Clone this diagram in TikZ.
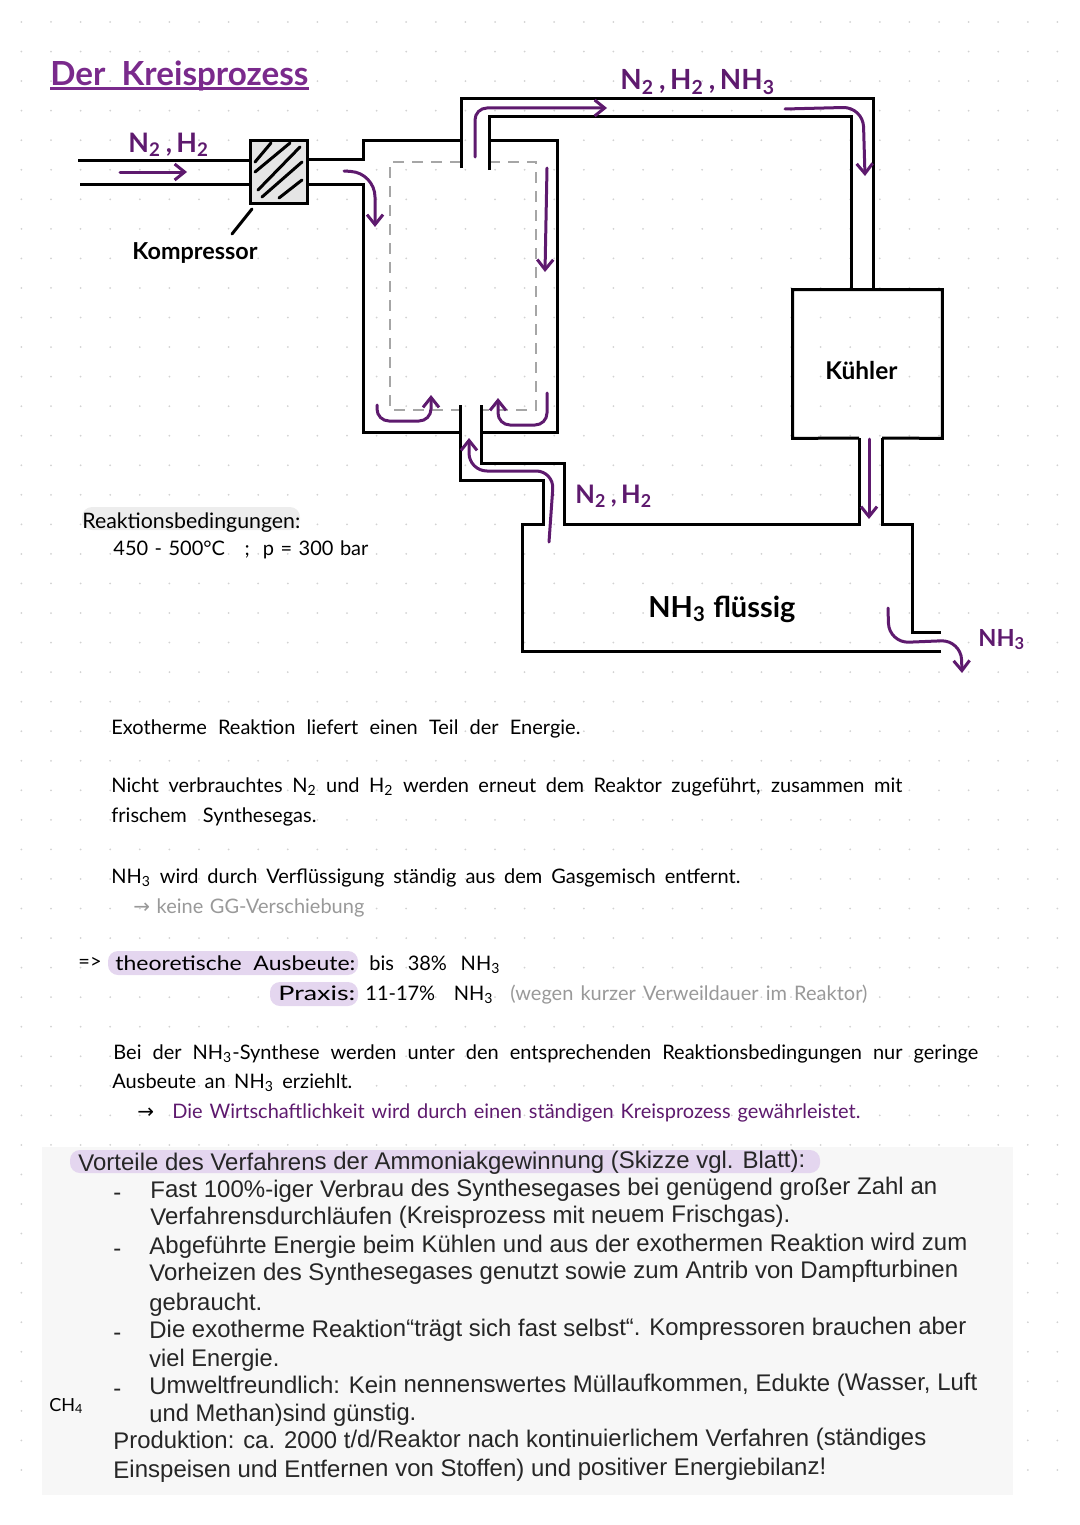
\documentclass[tikz,border=0pt]{standalone}
\usepackage{fontspec}
\usepackage{xcolor}
\usepackage{graphicx}
\usetikzlibrary{arrows.meta}
\setmainfont{Lato}
\newfontfamily\typedfont{Liberation Sans}
\newfontfamily\symfont{DejaVu Sans}
\definecolor{lila}{HTML}{5E1A6E}
\definecolor{titel}{HTML}{7A2A8C}
\definecolor{marker}{HTML}{E4D6EF}
\newcommand{\low}[1]{\textsubscript{#1}}
\newcommand{\fitto}[2]{\makebox[\dimexpr #1pt/2\relax][s]{#2}}
\newcommand{\fitw}[2]{\resizebox{\dimexpr #1pt/2\relax}{!}{#2}}
\newcommand{\fitx}[2]{\resizebox{\dimexpr #1pt/2\relax}{\height}{#2}}

\begin{document}
\begin{tikzpicture}[
    x=0.5pt, y=-0.5pt,
    pipe/.style={line width=1.5pt, black, line join=miter},
    dashline/.style={line width=1.3pt, gray!70, dash pattern=on 5.5pt off 4pt},
    flow/.style={line width=1.5pt, lila, rounded corners=6pt, line cap=round, -{Straight Barb[length=5pt,width=8pt]}},
    hand/.style={anchor=base west, inner sep=0pt, font=\fontsize{10}{12}\selectfont},
    typed/.style={anchor=base west, inner sep=0pt, rotate=0.25, text=black!85, font=\typedfont\fontsize{12}{14}\selectfont},
    bigtext/.style={anchor=base west, inner sep=0pt, font=\bfseries, text=lila},
    markbox/.style={fill=marker, rounded corners=5pt}
]
    \useasboundingbox (0,0) rectangle (1080,1525);

    % Dots
    \foreach \i in {0,...,35}
        \foreach \j in {0,...,49}
            \fill[gray!35] ({21.4+29.6*\i},{22+29.55*\j}) circle (0.5pt);

    % Sheet
    \fill[black!3] (42,1147) rectangle (1013,1495);

    % Markers
    \fill[black!7, rounded corners=5pt] (82,507) rectangle (300,530);
    \fill[markbox] (108,951) rectangle (358,975);
    \fill[markbox] (270,982) rectangle (358,1006);
    \fill[markbox] (70,1150) rectangle (820,1173);

    % Title
    \node (title) [bigtext, text=titel] at (50,85) {\fitw{258}{Der\ \ Kreisprozess}};
    \draw[line width=1.5pt, titel] (50,89) -- (309,89);

    % Kompressor
    \node (kompressor) [draw, pipe, fill=gray!20, minimum width=28.5pt, minimum height=31.5pt, inner sep=0pt] at (278.5,171.5) {};
    \draw[pipe, line cap=round] (255,162) -- (271,143);
    \draw[pipe, line cap=round] (255,172) -- (290,143);
    \draw[pipe, line cap=round] (258,190) -- (300,147);
    \draw[pipe, line cap=round] (262,197) -- (302,162);
    \draw[pipe, line cap=round] (279,198) -- (302,180);
    \draw[pipe, line cap=round] (252,209) -- (232,234);
    \node (kompressor_text) [bigtext, text=black] at (132,259) {\fitw{125}{Kompressor}};

    % Inlet
    \draw[pipe] (78,160) -- (kompressor.west |- 0,160);
    \draw[pipe] (80,184) -- (kompressor.west |- 0,184);
    \node (inlet_text) [bigtext] at (128,152) {\fitw{81}{N\low{2}\,,\,H\low{2}}};

    % Reaktor
    \draw[pipe] (kompressor.east |- 0,159) -- (363,159) -- (363,140) -- (461,140);
    \draw[pipe] (kompressor.east |- 0,184) -- (363,184) -- (363,432) -- (460,432);
    \draw[pipe] (489,140) -- (557,140) -- (557,432) -- (481,432);
    \draw[dashline] (461,162) -- (390,162) -- (390,410) -- (460,410);
    \draw[dashline] (489,162) -- (536,162) -- (536,410) -- (481,410);

    % Kuehler
    \node (kuehler) [minimum width=74.5pt, minimum height=74pt, inner sep=0pt] at (867.5,364) {};
    \draw[pipe] (859,438) -- (kuehler.south west) -- (kuehler.north west) -- (kuehler.north east) -- (kuehler.south east) -- (882,438);
    \node (kuehler_text) [bigtext, text=black] at (825,379) {\fitw{72}{Kühler}};

    % Pipes
    \draw[pipe] (461,168) -- (461,99) -- (873,99) -- (873,290);
    \draw[pipe] (489,170) -- (489,117) -- (851,117) -- (851,290);
    \draw[pipe] (859,438) -- (859,524) -- (564,524) -- (564,463) -- (481,463) -- (481,405);
    \draw[pipe] (882,438) -- (882,524) -- (912,524) -- (912,632) -- (941,632);
    \draw[pipe] (941,651) -- (522,651) -- (522,524) -- (543,524) -- (543,480) -- (460,480) -- (460,405);

    % Labels
    \node (loop_text) [bigtext] at (620,90) {\fitw{155}{N\low{2}\,,\,H\low{2}\,,\,NH\low{3}}};
    \node (return_text) [bigtext] at (575,503) {\fitw{77}{N\low{2}\,,\,H\low{2}}};
    \node (liquid_text) [bigtext, text=black] at (648,617) {\fitw{147}{NH\low{3} flüssig}};
    \node (out_text) [bigtext] at (978,646) {\fitw{47}{NH\low{3}}};

    % Arrows
    \draw[flow] (120,172) -- (187,172);
    \draw[flow, rounded corners=12pt] (344,171) -- (375,173) -- (375,227);
    \draw[flow] (475,157) -- (475,108) -- (607,108);
    \draw[flow, rounded corners=10pt] (785,109) -- (863,107) -- (865,176);
    \draw[flow] (547,168) -- (545,272);
    \draw[flow] (377,405) -- (377,421) -- (431,421) -- (431,395);
    \draw[flow] (547,393) -- (547,425) -- (498,425) -- (498,398);
    \draw[flow, rounded corners=9pt] (549,542) -- (554,471) -- (469,471) -- (469,438);
    \draw[flow] (869,439) -- (869,519);
    \draw[flow, rounded corners=10pt] (888,608) -- (889,643) -- (961,640) -- (962,673);

    % Handwritten text
    \node (cond_head) [hand] at (82,528) {\fitw{218}{Reaktionsbedingungen:}};
    \node (cond_vals) [hand] at (113,555) {\fitto{255}{450 - 500°C\ \ \ ;\ \ p = 300 bar}};
    \node (exo) [hand] at (111,734) {\fitto{469}{Exotherme Reaktion liefert einen Teil der Energie.}};
    \node (unused_a) [hand] at (111,792) {\fitto{791}{Nicht verbrauchtes N\low{2} und H\low{2} werden erneut dem Reaktor zugeführt, zusammen mit}};
    \node (unused_b) [hand] at (111,822) {\fitto{205}{frischem Synthesegas.}};
    \node (liquid_a) [hand] at (111,883) {\fitto{629}{NH\low{3} wird durch Verflüssigung ständig aus dem Gasgemisch entfernt.}};
    \node (liquid_b) [hand, text=gray!80] at (133,913) {\fitto{231}{{\symfont→} keine GG-Verschiebung}};
    \node (result_arrow) [hand] at (78,968) {=>};
    \node (theo) [hand] at (115,970) {\fitx{240}{theoretische\ \ Ausbeute:}};
    \node (theo_val) [hand] at (369,970) {\fitto{131}{bis 38\% NH\low{3}}};
    \node (praxis) [hand] at (278,1000) {\fitx{77}{Praxis:}};
    \node (praxis_val) [hand] at (365,1000) {\fitto{128}{11-17\% NH\low{3}}};
    \node (praxis_note) [hand, text=gray!80] at (510,1000) {\fitto{357}{(wegen kurzer Verweildauer im Reaktor)}};
    \node (syn_a) [hand] at (113,1059) {\fitto{865}{Bei der NH\low{3}-Synthese werden unter den entsprechenden Reaktionsbedingungen nur geringe}};
    \node (syn_b) [hand] at (112,1088) {\fitto{240}{Ausbeute an NH\low{3} erziehlt.}};
    \node (econ_arrow) [hand] at (137,1118) {\symfont→};
    \node (econ) [hand, text=lila] at (172,1118) {\fitto{688}{Die Wirtschaftlichkeit wird durch einen ständigen Kreisprozess gewährleistet.}};

    % Typed text
    \node (adv_head) [typed] at (78,1171) {\fitx{727}{Vorteile des Verfahrens der Ammoniakgewinnung (Skizze vgl. Blatt):}};
    \node (dash_a) [typed] at (113,1200) {-};
    \node (adv_a1) [typed] at (150,1198) {\fitx{787}{Fast 100\%-iger Verbrau des Synthesegases bei genügend großer Zahl an}};
    \node (adv_a2) [typed] at (150,1225) {\fitx{640}{Verfahrensdurchläufen (Kreisprozess mit neuem Frischgas).}};
    \node (dash_b) [typed] at (113,1256) {-};
    \node (adv_b1) [typed] at (149,1254) {\fitx{818}{Abgeführte Energie beim Kühlen und aus der exothermen Reaktion wird zum}};
    \node (adv_b2) [typed] at (149,1281) {\fitx{809}{Vorheizen des Synthesegases genutzt sowie zum Antrib von Dampfturbinen}};
    \node (adv_b3) [typed] at (149,1311) {\fitx{113}{gebraucht.}};
    \node (dash_c) [typed] at (113,1340) {-};
    \node (adv_c1) [typed] at (149,1338) {\fitx{817}{Die exotherme Reaktion“trägt sich fast selbst“. Kompressoren brauchen aber}};
    \node (adv_c2) [typed] at (149,1367) {\fitx{130}{viel Energie.}};
    \node (dash_d) [typed] at (113,1396) {-};
    \node (adv_d1) [typed] at (149,1394) {\fitx{828}{Umweltfreundlich: Kein nennenswertes Müllaufkommen, Edukte (Wasser, Luft}};
    \node (adv_d2) [typed] at (149,1422) {\fitx{267}{und Methan)sind günstig.}};
    \node (prod_a) [typed] at (113,1449) {\fitx{813}{Produktion: ca. 2000 t/d/Reaktor nach kontinuierlichem Verfahren (ständiges}};
    \node (prod_b) [typed] at (113,1478) {\fitx{713}{Einspeisen und Entfernen von Stoffen) und positiver Energiebilanz!}};
    \node (methan) [hand] at (49,1411) {\fitw{34}{CH\low{4}}};

\end{tikzpicture}
\end{document}
